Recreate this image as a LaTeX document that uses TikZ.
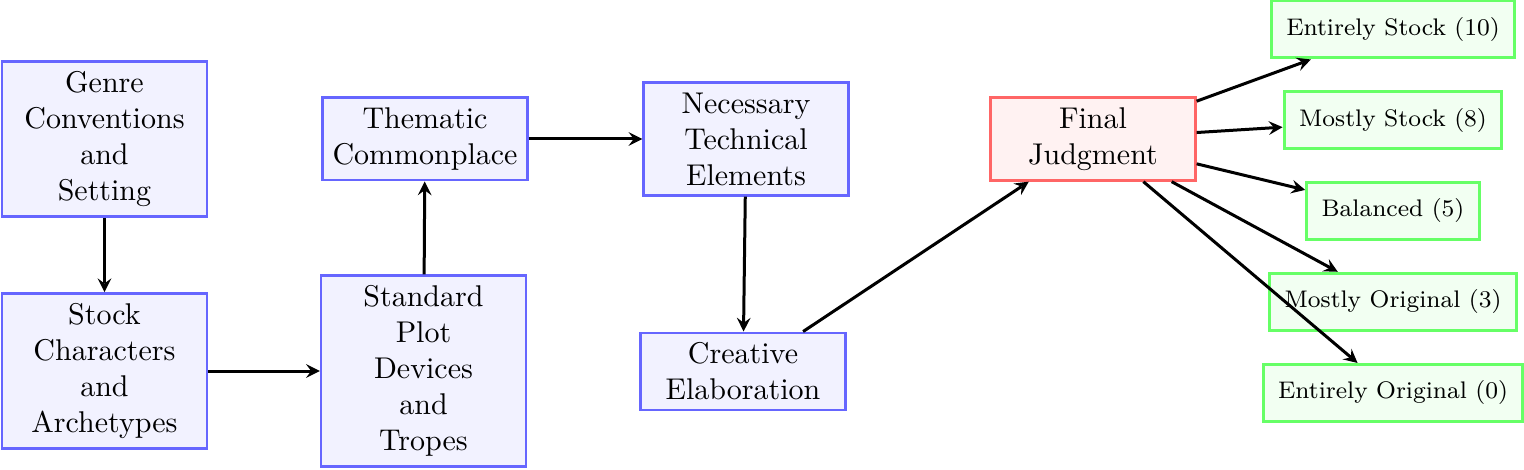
\documentclass[tikz,border=0pt]{standalone}
\usetikzlibrary{arrows.meta}
\begin{document}
\begin{tikzpicture}[
  proc/.style={draw=blue!60, fill=blue!5, thick, align=center, minimum width=2.4cm},
  judge/.style={draw=red!60, fill=red!5, thick, align=center, minimum width=2.4cm},
  outc/.style={draw=green!60, fill=green!5, line width=1pt, font=\footnotesize, inner xsep=5pt, minimum height=19pt},
  conn/.style={-stealth, line width=1pt}
]
\useasboundingbox (0,0) rectangle (508pt,-156.67pt);
\node[proc] (genre) at (34.83pt,-46.33pt) {Genre\\Conventions\\and\\Setting};
\node[proc] (stock) at (34.83pt,-123.67pt) {Stock\\Characters\\and\\Archetypes};
\node[proc] (thematic) at (141.67pt,-46.33pt) {Thematic\\Commonplace};
\node[proc] (plot) at (141.17pt,-123.67pt) {Standard\\Plot\\Devices\\and\\Tropes};
\node[proc] (tech) at (248.67pt,-46.33pt) {Necessary\\Technical\\Elements};
\node[proc] (creative) at (247.67pt,-123.83pt) {Creative\\Elaboration};
\node[judge] (final) at (364.33pt,-46.33pt) {Final\\Judgment};
\node[outc] (es) at (464.33pt,-9.83pt) {Entirely Stock (10)};
\node[outc] (ms) at (464.33pt,-40.1pt) {Mostly Stock (8)};
\node[outc] (bal) at (464.33pt,-70.33pt) {Balanced (5)};
\node[outc] (mo) at (464.33pt,-100.6pt) {Mostly Original (3)};
\node[outc] (eo) at (464.33pt,-131pt) {Entirely Original (0)};
\draw[conn] (genre) -- (stock);
\draw[conn] (stock) -- (plot);
\draw[conn] (plot) -- (thematic);
\draw[conn] (thematic) -- (tech);
\draw[conn] (tech) -- (creative);
\draw[conn] (creative) -- (final);
\draw[conn] (final) -- (es);
\draw[conn] (final) -- (ms);
\draw[conn] (final) -- (bal);
\draw[conn] (final) -- (mo);
\draw[conn] (final) -- (eo);
\end{tikzpicture}
\end{document}
